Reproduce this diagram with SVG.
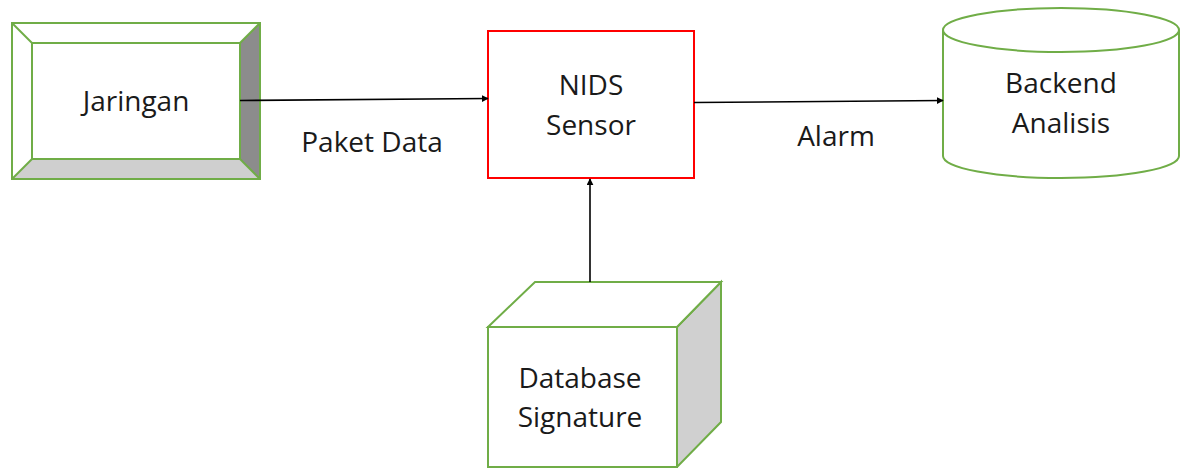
<svg xmlns="http://www.w3.org/2000/svg" width="1184" height="468" viewBox="0 0 1184 468">
  <style>
    .label { font-family: "Open Sans", "Liberation Sans", sans-serif; font-size: 28px; fill: #1a1a1a; text-anchor: middle; }
    .green { fill: #ffffff; stroke: #70ad47; stroke-width: 2; stroke-linejoin: miter; }
    .outline { fill: none; stroke: #70ad47; stroke-width: 2; }
    .edge { fill: none; stroke: #000000; stroke-width: 1.6; }
  </style>
  <defs>
    <marker id="arrow" viewBox="0 0 10 10" refX="9" refY="5" markerWidth="7" markerHeight="7" markerUnits="userSpaceOnUse" orient="auto">
      <path d="M0,0 L10,5 L0,10 z" fill="#000000"/>
    </marker>
  </defs>

  <rect x="0" y="0" width="1184" height="468" fill="#ffffff"/>

  <!-- Bevelled network node -->
  <g id="jaringan">
    <rect x="12" y="23" width="248" height="156" fill="#ffffff"/>
    <polygon points="240,43 260,23 260,179 240,159" fill="#8c8c8c"/>
    <polygon points="32,159 240,159 260,179 12,179" fill="#cfcfcf"/>
    <rect class="outline" x="12" y="23" width="248" height="156"/>
    <rect class="green" x="32" y="43" width="208" height="116"/>
    <g class="outline">
      <line x1="12" y1="23" x2="32" y2="43"/>
      <line x1="260" y1="23" x2="240" y2="43"/>
      <line x1="12" y1="179" x2="32" y2="159"/>
      <line x1="260" y1="179" x2="240" y2="159"/>
    </g>
    <text class="label" x="136" y="111">Jaringan</text>
  </g>

  <!-- Sensor process -->
  <g id="nids-sensor">
    <rect x="488" y="31" width="206" height="147" fill="#ffffff" stroke="#ff0000" stroke-width="2"/>
    <text class="label" x="591" y="95">NIDS</text>
    <text class="label" x="591" y="135">Sensor</text>
  </g>

  <!-- Analysis storage cylinder -->
  <g id="backend-analisis">
    <path class="green" d="M943,30 L943,156 A118,22 0 0 0 1179,156 L1179,30"/>
    <ellipse class="green" cx="1061" cy="30" rx="118" ry="22"/>
    <text class="label" x="1061" y="93">Backend</text>
    <text class="label" x="1061" y="133">Analisis</text>
  </g>

  <!-- Signature database cube -->
  <g id="database-signature">
    <polygon points="677,327 721,282 721,422 677,467" style="fill:#d0d0d0; stroke:#70ad47; stroke-width:2"/>
    <polygon class="green" points="488,327 535,282 721,282 677,327"/>
    <rect class="green" x="488" y="327" width="189" height="140"/>
    <text class="label" x="580" y="388">Database</text>
    <text class="label" x="580" y="427">Signature</text>
  </g>

  <!-- Connectors -->
  <g id="connectors">
    <line class="edge" x1="240" y1="100.5" x2="488" y2="98.5" marker-end="url(#arrow)"/>
    <line class="edge" x1="694" y1="102.5" x2="943" y2="100.5" marker-end="url(#arrow)"/>
    <line class="edge" x1="590" y1="282" x2="590" y2="179" marker-end="url(#arrow)"/>
    <text class="label" x="372" y="152">Paket Data</text>
    <text class="label" x="836" y="146">Alarm</text>
  </g>
</svg>
